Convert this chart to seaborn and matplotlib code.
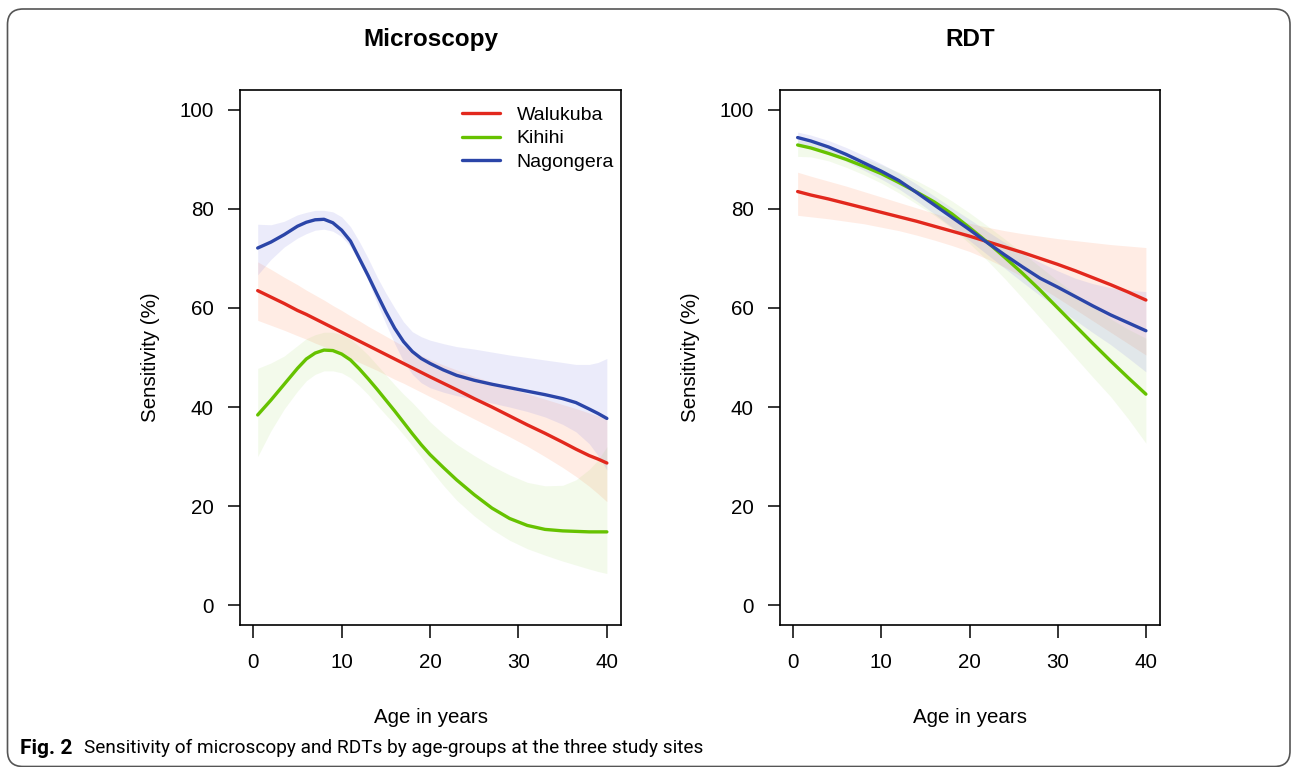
import numpy as np
import pandas as pd
import matplotlib
matplotlib.use("Agg")
import matplotlib.pyplot as plt
from matplotlib.patches import FancyBboxPatch
import seaborn as sns

# ---------------- data ----------------
sites = ["Walukuba", "Kihihi", "Nagongera"]
tests = ["Microscopy", "RDT"]
x_ticks = [0, 10, 20, 30, 40]
y_ticks = [0, 20, 40, 60, 80, 100]

# Microscopy panel
ages_mic = [0.5, 2, 3.5, 5, 6, 7, 8, 9, 10, 11, 12, 13, 14, 15, 16, 17, 18, 19, 20,
            21.5, 23, 25, 27, 29, 31, 33, 35, 36.5, 38, 39, 40]
mic_walukuba = [63.5, 62.2, 60.9, 59.5, 58.7, 57.8, 56.9, 56.0, 55.1, 54.2, 53.3, 52.4, 51.5, 50.6, 49.7, 48.8,
                47.9, 47.0, 46.1, 44.8, 43.5, 41.7, 40.0, 38.2, 36.4, 34.7, 32.9, 31.5, 30.2, 29.5, 28.7]
mic_walukuba_hi = [69.3, 67.8, 66.2, 64.7, 63.6, 62.6, 61.6, 60.5, 59.5, 58.4, 57.4, 56.3, 55.3, 54.3, 53.3, 52.3,
                   51.3, 50.4, 49.6, 48.5, 47.5, 46.2, 45.0, 43.8, 42.7, 41.6, 40.5, 39.7, 38.8, 38.2, 37.5]
mic_walukuba_lo = [57.5, 56.5, 55.5, 54.4, 53.7, 52.9, 52.2, 51.4, 50.6, 49.8, 49.0, 48.2, 47.4, 46.5, 45.6, 44.8,
                   43.9, 43.0, 42.1, 40.8, 39.4, 37.6, 35.8, 34.0, 32.1, 30.0, 27.8, 26.0, 24.0, 22.5, 20.9]

mic_kihihi = [38.4, 41.4, 44.6, 47.8, 49.7, 50.9, 51.5, 51.4, 50.7, 49.5, 47.7, 45.7, 43.6, 41.4, 39.2, 36.9,
              34.6, 32.4, 30.4, 27.8, 25.3, 22.3, 19.6, 17.5, 16.1, 15.3, 15.0, 14.9, 14.8, 14.8, 14.8]
mic_kihihi_hi = [47.8, 48.9, 50.3, 52.4, 53.8, 54.6, 55.1, 55.1, 54.6, 53.7, 52.2, 50.5, 48.5, 46.5, 44.5, 42.6,
                 40.9, 39.0, 37.0, 34.6, 32.5, 30.2, 28.1, 26.3, 24.8, 24.1, 24.2, 25.3, 27.4, 29.3, 32.0]
mic_kihihi_lo = [30.0, 35.2, 39.6, 43.2, 45.3, 46.6, 47.3, 47.3, 46.9, 45.9, 44.3, 42.5, 40.4, 38.4, 36.5, 34.4,
                 32.2, 29.9, 27.5, 24.2, 21.2, 18.0, 15.3, 13.1, 11.4, 10.1, 8.9, 8.1, 7.3, 6.8, 6.4]

mic_nagongera = [72.1, 73.3, 74.8, 76.5, 77.3, 77.8, 77.9, 77.2, 75.7, 73.5, 70.0, 66.5, 62.8, 59.2, 55.9, 53.2,
                 51.2, 49.8, 48.8, 47.5, 46.4, 45.4, 44.6, 43.9, 43.2, 42.5, 41.7, 40.9, 39.6, 38.7, 37.7]
mic_nagongera_hi = [76.9, 76.8, 77.5, 78.8, 79.3, 79.7, 79.7, 79.4, 78.4, 76.4, 73.4, 70.0, 66.3, 63.0, 60.0, 57.2,
                    55.2, 54.2, 53.5, 52.8, 52.2, 51.7, 51.1, 50.5, 50.0, 49.5, 49.0, 48.6, 48.6, 49.0, 49.8]
mic_nagongera_lo = [66.7, 69.8, 72.3, 74.1, 75.0, 75.7, 75.9, 75.5, 74.4, 72.4, 69.2, 65.5, 61.0, 56.8, 52.8, 49.2,
                    46.6, 44.9, 43.9, 43.0, 42.3, 41.6, 40.8, 40.0, 39.1, 38.0, 36.5, 35.0, 32.6, 30.2, 27.3]

# RDT panel
ages_rdt = [0.5, 2, 4, 6, 8, 10, 12, 14, 16, 18, 20, 22, 24, 26, 28, 30, 32, 34, 36, 38, 40]
rdt_walukuba = [83.5, 82.8, 82.0, 81.1, 80.2, 79.3, 78.4, 77.5, 76.5, 75.5, 74.5, 73.4, 72.3, 71.2, 70.0, 68.8, 67.5, 66.1, 64.7, 63.2, 61.6]
rdt_walukuba_hi = [87.4, 86.6, 85.6, 84.6, 83.5, 82.4, 81.3, 80.2, 79.1, 78.1, 77.1, 76.3, 75.6, 75.0, 74.5, 74.0, 73.6, 73.2, 72.8, 72.5, 72.2]
rdt_walukuba_lo = [78.7, 78.4, 78.0, 77.5, 77.0, 76.3, 75.6, 74.7, 73.7, 72.6, 71.4, 69.9, 68.2, 66.3, 64.2, 62.0, 59.7, 57.4, 55.1, 52.8, 50.5]

rdt_kihihi = [92.9, 92.3, 91.2, 90.0, 88.6, 87.1, 85.3, 83.4, 81.4, 79.0, 76.2, 73.3, 70.2, 67.0, 63.6, 60.0, 56.4, 52.8, 49.3, 45.9, 42.6]
rdt_kihihi_hi = [93.9, 93.4, 92.4, 91.3, 90.2, 88.9, 87.4, 85.7, 83.8, 81.6, 79.2, 76.6, 73.9, 71.1, 68.3, 65.5, 62.8, 60.2, 57.8, 55.7, 53.9]
rdt_kihihi_lo = [90.6, 90.5, 89.7, 88.4, 86.9, 85.2, 83.2, 81.0, 78.7, 76.1, 73.0, 69.6, 65.9, 62.0, 58.0, 54.0, 50.0, 46.0, 42.1, 37.6, 32.7]

rdt_nagongera = [94.4, 93.7, 92.5, 91.0, 89.3, 87.6, 85.7, 83.3, 80.8, 78.3, 75.8, 73.2, 70.7, 68.3, 66.0, 64.2, 62.3, 60.4, 58.6, 57.0, 55.4]
rdt_nagongera_hi = [95.5, 94.9, 93.8, 92.4, 90.8, 89.1, 87.2, 85.0, 82.6, 80.2, 77.9, 75.5, 73.2, 71.0, 69.2, 67.5, 66.0, 64.9, 64.1, 63.6, 63.3]
rdt_nagongera_lo = [93.1, 92.4, 91.1, 89.6, 87.8, 86.0, 84.0, 81.6, 79.0, 76.3, 73.6, 70.8, 68.0, 65.2, 62.5, 60.0, 57.5, 55.0, 52.6, 49.9, 47.1]

# ---------------- build table ----------------
series = {
    ("Microscopy", "Walukuba"): (ages_mic, mic_walukuba, mic_walukuba_lo, mic_walukuba_hi),
    ("Microscopy", "Kihihi"): (ages_mic, mic_kihihi, mic_kihihi_lo, mic_kihihi_hi),
    ("Microscopy", "Nagongera"): (ages_mic, mic_nagongera, mic_nagongera_lo, mic_nagongera_hi),
    ("RDT", "Walukuba"): (ages_rdt, rdt_walukuba, rdt_walukuba_lo, rdt_walukuba_hi),
    ("RDT", "Kihihi"): (ages_rdt, rdt_kihihi, rdt_kihihi_lo, rdt_kihihi_hi),
    ("RDT", "Nagongera"): (ages_rdt, rdt_nagongera, rdt_nagongera_lo, rdt_nagongera_hi),
}
rows = []
for (t, s), (ag, v, lo, hi) in series.items():
    for a, vv, l, h in zip(ag, v, lo, hi):
        rows.append({"test": t, "site": s, "age": a, "sens": vv, "lo": l, "hi": h})
df = pd.DataFrame(rows)

line_colors = {"Walukuba": "#E2281D", "Kihihi": "#66C200", "Nagongera": "#2B45A8"}
band_colors = {"Walukuba": ("#FF8C5A", 0.16), "Kihihi": ("#A6DC6A", 0.13), "Nagongera": ("#8C8CE6", 0.17)}

# ---------------- figure ----------------
sns.set_style("ticks")
plt.rcParams["font.family"] = ["Liberation Sans", "DejaVu Sans"]
for k in ["text.color", "axes.labelcolor", "xtick.color", "ytick.color"]:
    plt.rcParams[k] = "black"

W, H = 1292, 767
fig = plt.figure(figsize=(W / 100, H / 100), dpi=100)

def px_axes(x0, x1, y0, y1):
    return fig.add_axes([x0 / W, 1 - y1 / H, (x1 - x0) / W, (y1 - y0) / H])

axes = [px_axes(240, 621, 90, 625), px_axes(780, 1160, 90, 625)]

for ax, test in zip(axes, tests):
    sub = df[df["test"] == test]
    for s in sites:
        d = sub[sub["site"] == s]
        c, a = band_colors[s]
        ax.fill_between(d["age"], d["lo"], d["hi"], color=c, alpha=a, linewidth=0)
    sns.lineplot(data=sub, x="age", y="sens", hue="site", hue_order=sites,
                 palette=line_colors, linewidth=2.4, ax=ax,
                 legend=(test == "Microscopy"))
    ax.set_xlim(-1.5, 41.6)
    ax.set_ylim(-4, 104)
    ax.set_xticks(x_ticks)
    ax.set_yticks(y_ticks)
    ax.tick_params(axis="both", direction="out", length=9, width=1.1,
                   color="black", labelsize=14.8)
    ax.tick_params(axis="x", pad=11)
    ax.tick_params(axis="y", pad=10)
    for sp in ax.spines.values():
        sp.set_visible(True)
        sp.set_color("black")
        sp.set_linewidth(1.2)
    ax.set_xlabel("Age in years", fontsize=14.8, labelpad=26)
    ax.set_ylabel("Sensitivity (%)", fontsize=14.8, labelpad=14)
    ax.set_title(test, fontsize=17.5, fontweight="bold", pad=32)

leg = axes[0].get_legend()
handles, labels = axes[0].get_legend_handles_labels()
leg.remove()
axes[0].legend(handles, labels, loc="upper left", frameon=False, fontsize=14,
               handlelength=1.95, handletextpad=0.85, labelspacing=0.32,
               borderpad=0, borderaxespad=0,
               bbox_to_anchor=((462 - 240) / 381, (625 - 106) / 535))

# caption
fig.text(20 / W, 1 - 748 / H, "Fig. 2", fontsize=15, fontweight="bold",
         family=["Roboto", "DejaVu Sans"], va="center", ha="left")
fig.text(84 / W, 1 - 748 / H, "Sensitivity of microscopy and RDTs by age-groups at the three study sites",
         fontsize=13.7, family=["Roboto", "DejaVu Sans"], va="center", ha="left")

# outer rounded frame
frame = FancyBboxPatch((7.5 / W, 1 - 766.5 / H), (1290 - 7.5) / W, (766.5 - 9) / H,
                       boxstyle="round,pad=0,rounding_size=0.012",
                       transform=fig.transFigure, fill=False,
                       edgecolor="#555555", linewidth=1.2, mutation_aspect=W / H)
fig.patches.append(frame)

fig.savefig("out.png", dpi=100)
